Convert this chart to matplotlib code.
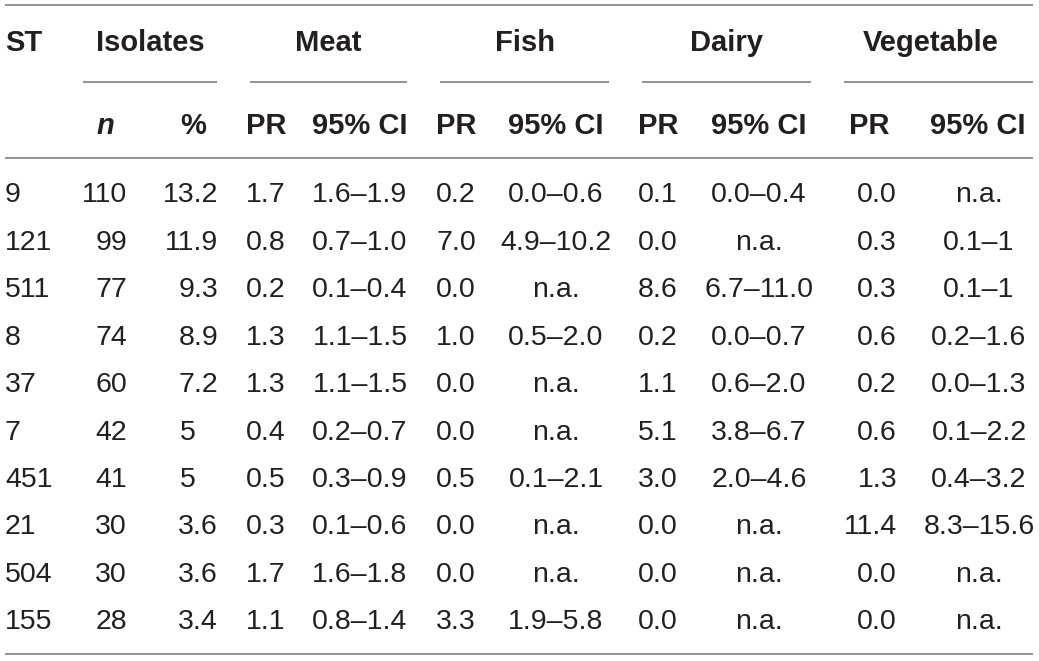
import matplotlib
matplotlib.use("Agg")
import matplotlib.pyplot as plt

# Table contents
st = ["9", "121", "511", "8", "37", "7", "451", "21", "504", "155"]
n_iso = ["110", "99", "77", "74", "60", "42", "41", "30", "30", "28"]
pct_iso = ["13.2", "11.9", "9.3", "8.9", "7.2", "5", "5", "3.6", "3.6", "3.4"]
meat_pr = ["1.7", "0.8", "0.2", "1.3", "1.3", "0.4", "0.5", "0.3", "1.7", "1.1"]
meat_ci = ["1.6–1.9", "0.7–1.0", "0.1–0.4", "1.1–1.5", "1.1–1.5",
           "0.2–0.7", "0.3–0.9", "0.1–0.6", "1.6–1.8", "0.8–1.4"]
fish_pr = ["0.2", "7.0", "0.0", "1.0", "0.0", "0.0", "0.5", "0.0", "0.0", "3.3"]
fish_ci = ["0.0–0.6", "4.9–10.2", "n.a.", "0.5–2.0", "n.a.",
           "n.a.", "0.1–2.1", "n.a.", "n.a.", "1.9–5.8"]
dairy_pr = ["0.1", "0.0", "8.6", "0.2", "1.1", "5.1", "3.0", "0.0", "0.0", "0.0"]
dairy_ci = ["0.0–0.4", "n.a.", "6.7–11.0", "0.0–0.7", "0.6–2.0",
            "3.8–6.7", "2.0–4.6", "n.a.", "n.a.", "n.a."]
veg_pr = ["0.0", "0.3", "0.3", "0.6", "0.2", "0.6", "1.3", "11.4", "0.0", "0.0"]
veg_ci = ["n.a.", "0.1–1", "0.1–1", "0.2–1.6", "0.0–1.3",
          "0.1–2.2", "0.4–3.2", "8.3–15.6", "n.a.", "n.a."]

groups = ["Isolates", "Meat", "Fish", "Dairy", "Vegetable"]
subheads = ["PR", "95% CI"]

W, H = 1039, 661
fig = plt.figure(figsize=(W / 100, H / 100), dpi=100)
ax = fig.add_axes([0, 0, 1, 1])
ax.set_xlim(0, W)
ax.set_ylim(H, 0)
ax.axis("off")

txt = "#231f20"
line_c = "#8a8a8a"
body = dict(fontsize=20.5, color=txt, family="Liberation Sans", va="center")
head = dict(fontsize=21, color=txt, family="Liberation Sans", fontweight="bold", va="center")

# Rules
ax.hlines([5, 158, 654], 5, 1033, color=line_c, lw=1.3)
spans = [(83, 217), (250, 407), (440, 609), (642, 811), (844, 1033)]
ax.hlines([82] * len(spans), [s[0] for s in spans], [s[1] for s in spans], color=line_c, lw=1.3)

# Header row 1
ax.text(5, 43, "ST", ha="left", **head)
group_x = [150, 328, 525, 726, 931]
for g, x in zip(groups, group_x):
    ax.text(x, 43, g, ha="center", **head)

# Header row 2
ax.text(105, 126, "n", ha="center", style="italic", **head)
ax.text(193, 126, "%", ha="center", **head)
pr_x = [266, 456, 658, 869]
ci_x = [360, 556, 759, 978]
for px, cx in zip(pr_x, ci_x):
    ax.text(px, 126, subheads[0], ha="center", **head)
    ax.text(cx, 126, subheads[1], ha="center", **head)

# Body rows
y0, dy = 195.5, 47.4
for i in range(len(st)):
    y = y0 + i * dy
    ax.text(5, y, st[i], ha="left", **body)
    ax.text(127, y, n_iso[i], ha="right", **body)
    # decimal-aligned percentage
    if "." in pct_iso[i]:
        ax.text(218, y, pct_iso[i], ha="right", **body)
    else:
        ax.text(180, y, pct_iso[i], ha="left", **body)
    ax.text(266, y, meat_pr[i], ha="center", **body)
    ax.text(360, y, meat_ci[i], ha="center", **body)
    ax.text(456, y, fish_pr[i], ha="center", **body)
    ax.text(556, y, fish_ci[i], ha="center", **body)
    ax.text(658, y, dairy_pr[i], ha="center", **body)
    ax.text(759, y, dairy_ci[i], ha="center", **body)
    ax.text(897, y, veg_pr[i], ha="right", **body)
    ax.text(979, y, veg_ci[i], ha="center", **body)

fig.savefig("out.png", dpi=100)
